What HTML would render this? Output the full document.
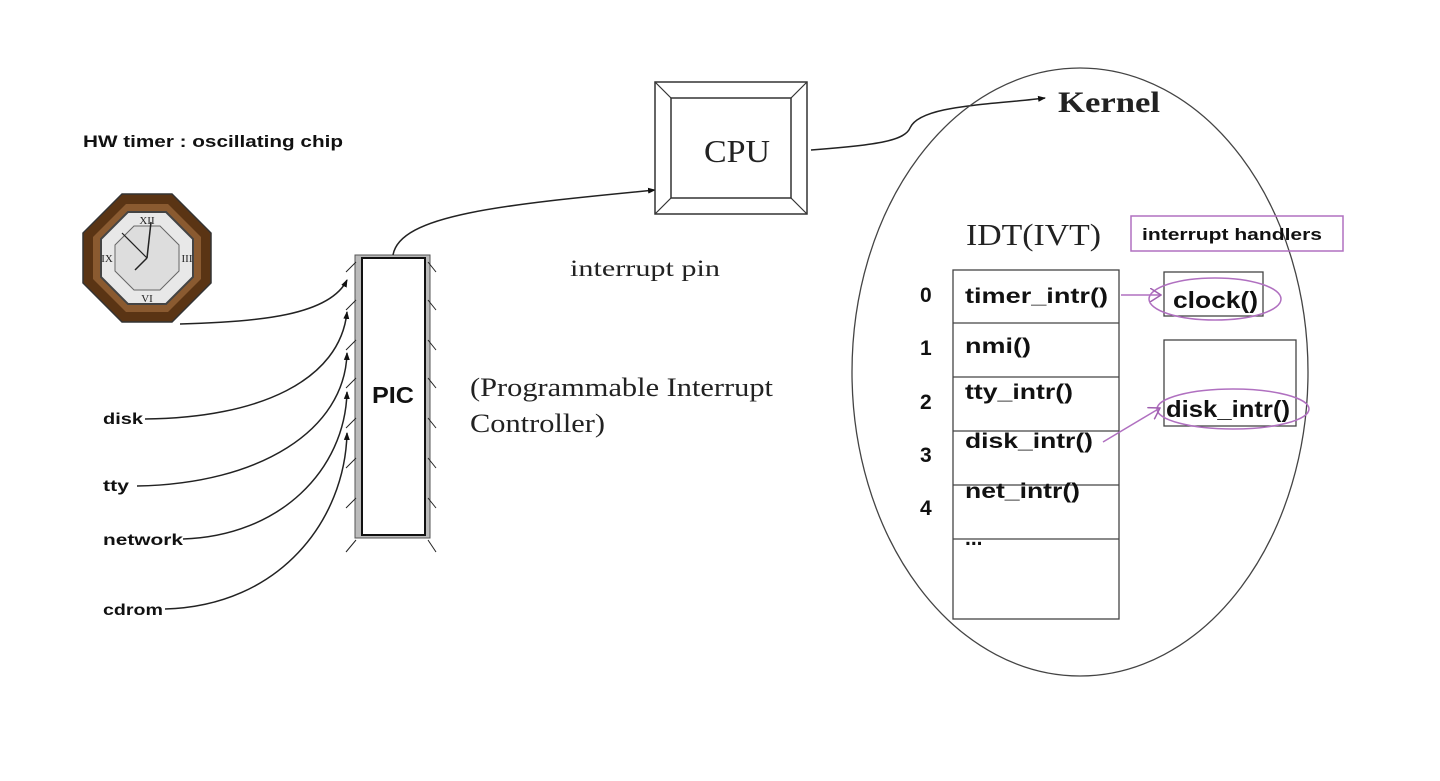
<!DOCTYPE html>
<html><head><meta charset="utf-8"><style>
html,body{margin:0;padding:0;background:#fff;}
svg{display:block;}
.s{font-family:"Liberation Sans",sans-serif;font-weight:bold;fill:#111;}
.r{font-family:"Liberation Serif",serif;fill:#222;}
</style></head><body>
<svg width="1440" height="781" viewBox="0 0 1440 781" xmlns="http://www.w3.org/2000/svg">
<defs>
<marker id="a" markerWidth="8" markerHeight="8" refX="7" refY="4" orient="auto" markerUnits="userSpaceOnUse"><path d="M0,1 L8,4 L0,7 Z" fill="#111"/></marker>
<marker id="p" markerWidth="12" markerHeight="14" refX="11" refY="7" orient="auto" markerUnits="userSpaceOnUse"><path d="M0,0 L11,7 L0,14" fill="none" stroke="#a060b0" stroke-width="1.5"/></marker>
</defs>
<text x="83" y="147" class="s" font-size="17" textLength="260" lengthAdjust="spacingAndGlyphs">HW timer : oscillating chip</text>
<!-- clock -->
<g transform="translate(147,258)">
<polygon points="-25,-64 25,-64 64,-25 64,25 25,64 -25,64 -64,25 -64,-25" fill="#5a3414" stroke="#333" stroke-width="1.5"/>
<polygon points="-21,-54 21,-54 54,-21 54,21 21,54 -21,54 -54,21 -54,-21" fill="#8a5a30"/>
<polygon points="-19,-46 19,-46 46,-19 46,19 19,46 -19,46 -46,19 -46,-19" fill="#e8e8e8" stroke="#444" stroke-width="2"/>
<polygon points="-13,-32 13,-32 32,-13 32,13 13,32 -13,32 -32,13 -32,-13" fill="#ddd" stroke="#666" stroke-width="1"/>
<text x="0" y="-34" font-size="11" text-anchor="middle" class="r">XII</text>
<text x="0" y="44" font-size="11" text-anchor="middle" class="r">VI</text>
<text x="-40" y="4" font-size="11" text-anchor="middle" class="r">IX</text>
<text x="40" y="4" font-size="11" text-anchor="middle" class="r">III</text>
<line x1="0" y1="0" x2="4" y2="-36" stroke="#222" stroke-width="1.5"/>
<line x1="0" y1="0" x2="-25" y2="-25" stroke="#222" stroke-width="1.2"/>
<line x1="0" y1="0" x2="-12" y2="12" stroke="#222" stroke-width="1.5"/>
</g>
<!-- PIC -->
<rect x="355" y="255" width="75" height="283" fill="#bbb" stroke="#555"/>
<rect x="362" y="258" width="63" height="277" fill="#fff" stroke="#111" stroke-width="2"/>
<text x="372" y="403" class="s" font-size="23" textLength="42" lengthAdjust="spacingAndGlyphs">PIC</text>
<g stroke="#222" stroke-width="1">
<line x1="346" y1="272" x2="356" y2="262"/><line x1="346" y1="310" x2="356" y2="300"/><line x1="346" y1="350" x2="356" y2="340"/><line x1="346" y1="388" x2="356" y2="378"/><line x1="346" y1="428" x2="356" y2="418"/><line x1="346" y1="468" x2="356" y2="458"/><line x1="346" y1="508" x2="356" y2="498"/><line x1="346" y1="552" x2="356" y2="540"/>
<line x1="428" y1="262" x2="436" y2="272"/><line x1="428" y1="300" x2="436" y2="310"/><line x1="428" y1="340" x2="436" y2="350"/><line x1="428" y1="378" x2="436" y2="388"/><line x1="428" y1="418" x2="436" y2="428"/><line x1="428" y1="458" x2="436" y2="468"/><line x1="428" y1="498" x2="436" y2="508"/><line x1="428" y1="540" x2="436" y2="552"/>
</g>
<g fill="none" stroke="#222" stroke-width="1.5">
<path d="M180,324 C260,322 330,315 347,280" marker-end="url(#a)"/>
<path d="M145,419 C260,418 340,380 347,312" marker-end="url(#a)"/>
<path d="M137,486 C260,484 345,430 347,353" marker-end="url(#a)"/>
<path d="M183,539 C280,536 345,470 347,392" marker-end="url(#a)"/>
<path d="M165,609 C280,606 345,520 347,433" marker-end="url(#a)"/>
<path d="M393,255 C400,215 500,205 655,190" marker-end="url(#a)"/>
<path d="M811,150 C880,145 905,140 910,128 C920,105 990,105 1045,98" marker-end="url(#a)"/>
</g>
<text x="103" y="424" class="s" font-size="16" textLength="40" lengthAdjust="spacingAndGlyphs">disk</text>
<text x="103" y="491" class="s" font-size="16" textLength="26" lengthAdjust="spacingAndGlyphs">tty</text>
<text x="103" y="545" class="s" font-size="16" textLength="80" lengthAdjust="spacingAndGlyphs">network</text>
<text x="103" y="615" class="s" font-size="16" textLength="60" lengthAdjust="spacingAndGlyphs">cdrom</text>
<!-- CPU -->
<rect x="655" y="82" width="152" height="132" fill="#fff" stroke="#333" stroke-width="1.5"/>
<rect x="671" y="98" width="120" height="100" fill="#fff" stroke="#333" stroke-width="1.5"/>
<g stroke="#333" stroke-width="1.2"><line x1="655" y1="82" x2="671" y2="98"/><line x1="807" y1="82" x2="791" y2="98"/><line x1="655" y1="214" x2="671" y2="198"/><line x1="807" y1="214" x2="791" y2="198"/></g>
<text x="704" y="162" class="r" font-size="32" textLength="66" lengthAdjust="spacingAndGlyphs">CPU</text>
<text x="570" y="276" class="r" font-size="23" textLength="150" lengthAdjust="spacingAndGlyphs">interrupt pin</text>
<text x="470" y="396" class="r" font-size="26" textLength="303" lengthAdjust="spacingAndGlyphs">(Programmable Interrupt</text>
<text x="470" y="432" class="r" font-size="26" textLength="135" lengthAdjust="spacingAndGlyphs">Controller)</text>
<!-- Kernel -->
<ellipse cx="1080" cy="372" rx="228" ry="304" fill="none" stroke="#444" stroke-width="1.3"/>
<text x="1058" y="112" class="r" font-size="30" font-weight="bold" fill="#111" textLength="102" lengthAdjust="spacingAndGlyphs">Kernel</text>
<text x="966" y="245" class="r" font-size="31" textLength="135" lengthAdjust="spacingAndGlyphs">IDT(IVT)</text>
<rect x="1131" y="216" width="212" height="35" fill="none" stroke="#b070c0" stroke-width="1.5"/>
<text x="1142" y="240" class="s" font-size="17" textLength="180" lengthAdjust="spacingAndGlyphs">interrupt handlers</text>
<rect x="953" y="270" width="166" height="349" fill="none" stroke="#444" stroke-width="1.3"/>
<g stroke="#444" stroke-width="1.3"><line x1="953" y1="323" x2="1119" y2="323"/><line x1="953" y1="377" x2="1119" y2="377"/><line x1="953" y1="431" x2="1119" y2="431"/><line x1="953" y1="485" x2="1119" y2="485"/><line x1="953" y1="539" x2="1119" y2="539"/></g>
<g class="s" font-size="21">
<text x="920" y="302">0</text><text x="920" y="355">1</text><text x="920" y="409">2</text><text x="920" y="462">3</text><text x="920" y="515">4</text>
<text x="965" y="303" textLength="143" lengthAdjust="spacingAndGlyphs">timer_intr()</text>
<text x="965" y="353" textLength="66" lengthAdjust="spacingAndGlyphs">nmi()</text>
<text x="965" y="399" textLength="108" lengthAdjust="spacingAndGlyphs">tty_intr()</text>
<text x="965" y="448" textLength="128" lengthAdjust="spacingAndGlyphs">disk_intr()</text>
<text x="965" y="498" textLength="115" lengthAdjust="spacingAndGlyphs">net_intr()</text>
<text x="965" y="545">...</text>
</g>
<rect x="1164" y="272" width="99" height="44" fill="none" stroke="#444" stroke-width="1.3"/>
<rect x="1164" y="340" width="132" height="86" fill="none" stroke="#444" stroke-width="1.3"/>
<text x="1173" y="308" class="s" font-size="23" textLength="85" lengthAdjust="spacingAndGlyphs">clock()</text>
<text x="1166" y="417" class="s" font-size="23" textLength="124" lengthAdjust="spacingAndGlyphs">disk_intr()</text>
<ellipse cx="1215" cy="299" rx="66" ry="21" fill="none" stroke="#b070c0" stroke-width="1.5"/>
<ellipse cx="1233" cy="409" rx="76" ry="20" fill="none" stroke="#b070c0" stroke-width="1.5"/>
<g fill="none" stroke="#b070c0" stroke-width="1.5">
<path d="M1121,295 L1161,295" marker-end="url(#p)"/>
<path d="M1103,442 L1160,408" marker-end="url(#p)"/>
</g>
</svg>
</body></html>
